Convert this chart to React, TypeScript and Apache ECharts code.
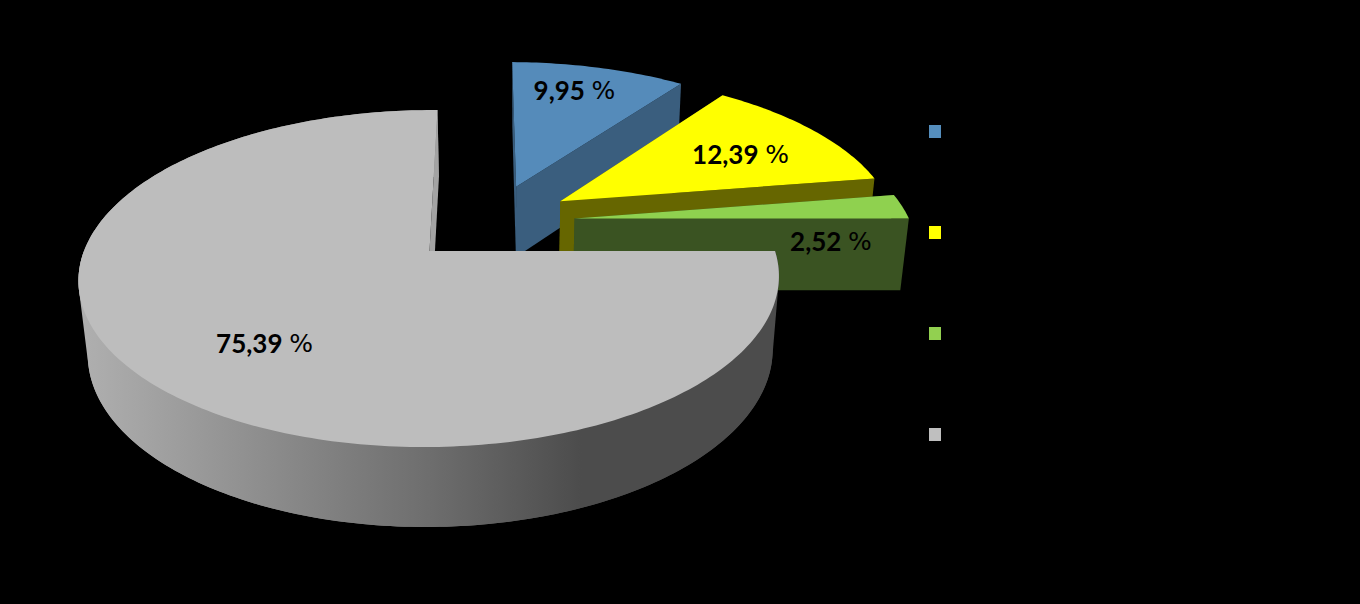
import React, { useEffect, useRef } from "react";
import * as echarts from "echarts";

const shares = [9.95, 12.39, 2.52, 75.39];
const sliceKeys = ["share-a", "share-b", "share-c", "share-d"];
const topColors = ["#558bba", "#ffff00", "#8fd14f", "#bdbdbd"];
const legendColors = ["#558ebd", "#ffff00", "#92d050", "#bfbfbf"];
const wallColors = ["#3a5e7e", "#666600", "#3a5322", "#a3a3a3"];
// offset of each slice's apex in the pie's plane (exploded slices)
const explodeU = [0.262, 0.394, 0.431, 0];
const explodeV = [0.419, 0.32, 0.205, 0];
// label centres
const labelX = [574.5, 740.5, 831, 264.5];
const labelY = [90, 154, 241, 343];

const ROTATION = 0.75;
const TOP = { x0: 429.5, y0: 251, a: 345.5, b: 164, c: 4.8, p: 0.1634 };
const BOTTOM = { x0: 431, y0: 324, a: 338, b: 170.5, c: 4.8, p: 0.16 };
type Plane = typeof TOP;

const total = shares.reduce((s, v) => s + v, 0);
const proj = (P: Plane, u: number, v: number): number[] => {
  const d = 1 + P.p * v;
  return [P.x0 + (P.a * u + P.c * v) / d, P.y0 - (P.b * v) / d];
};
const rad = (deg: number) => (deg * Math.PI) / 180;

const sliceAngles = (idx: number) => {
  let s = 0;
  for (let i = 0; i < idx; i++) s += shares[i];
  return [ROTATION + (s / total) * 360, ROTATION + ((s + shares[idx]) / total) * 360];
};

const rim = (P: Plane, idx: number, from: number, to: number) => {
  const pts: number[][] = [];
  const n = Math.max(2, Math.ceil(Math.abs(to - from)));
  for (let k = 0; k <= n; k++) {
    const t = rad(from + ((to - from) * k) / n);
    pts.push(proj(P, explodeU[idx] + Math.sin(t), explodeV[idx] + Math.cos(t)));
  }
  return pts;
};
const apex = (P: Plane, idx: number) => proj(P, explodeU[idx], explodeV[idx]);

const hull = (input: number[][]) => {
  const pts = [...input].sort((a, b) => a[0] - b[0] || a[1] - b[1]);
  const cross = (o: number[], a: number[], b: number[]) =>
    (a[0] - o[0]) * (b[1] - o[1]) - (a[1] - o[1]) * (b[0] - o[0]);
  const half = (list: number[][]) => {
    const out: number[][] = [];
    for (const p of list) {
      while (out.length >= 2 && cross(out[out.length - 2], out[out.length - 1], p) <= 0) out.pop();
      out.push(p);
    }
    out.pop();
    return out;
  };
  return [...half(pts), ...half([...pts].reverse())];
};

const sideGradient = () =>
  new echarts.graphic.LinearGradient(
    78,
    0,
    778,
    0,
    [
      { offset: 0, color: "#b0b0b0" },
      { offset: 0.5, color: "#6e6e6e" },
      { offset: 0.72, color: "#4c4c4c" },
      { offset: 1, color: "#4c4c4c" },
    ],
    true,
  );

const makeRender = (idx: number) => (_params: any, api: any) => {
  const value = api.value(0) as number;
  const [a0, a1] = sliceAngles(idx);
  const children: any[] = [];
  const poly = (points: number[][], fill: any) => ({
    type: "polygon",
    shape: { points },
    style: { fill, stroke: null },
    silent: true,
  });
  const radialWall = (angle: number) => {
    const e = rim(TOP, idx, angle, angle)[0];
    const eb = rim(BOTTOM, idx, angle, angle)[0];
    return poly([apex(TOP, idx), e, eb, apex(BOTTOM, idx)], wallColors[idx]);
  };
  if (idx === 3) {
    // outer wall: the far part as a strip, the near part as a hull so that its sides are straight
    const wall = [...rim(TOP, idx, a0, a1), ...rim(BOTTOM, idx, a0, a1).reverse()];
    children.push(poly(wall, sideGradient()));
    const near = [...rim(TOP, idx, a0, 270), ...rim(BOTTOM, idx, a0, 270)];
    children.push(poly(hull(near), sideGradient()));
    children.push(radialWall(a1));
  } else {
    children.push(radialWall(a0));
    children.push(radialWall(a1));
  }
  children.push(poly([apex(TOP, idx), ...rim(TOP, idx, a0, a1)], topColors[idx]));
  children.push({
    type: "text",
    silent: true,
    z2: 10,
    style: {
      x: labelX[idx],
      y: labelY[idx],
      text: `{n|${value.toFixed(2).replace(".", ",")}}  {p|%}`,
      align: "center",
      verticalAlign: "middle",
      rich: {
        n: { fontFamily: "Lato", fontWeight: "bold", fontSize: 26, color: "#000" },
        p: { fontFamily: "DejaVu Sans", fontWeight: "normal", fontSize: 25, color: "#000" },
      },
    },
  });
  return { type: "group", children };
};

export default function App() {
  const ref = useRef<HTMLDivElement>(null);
  useEffect(() => {
    document.body.style.margin = "0";
    document.body.style.background = "#000";
    const chart = echarts.init(ref.current!, undefined, { renderer: "svg" });
    chart.setOption({
      animation: false,
      backgroundColor: "#000",
      legend: {
        orient: "vertical",
        left: 929,
        top: 125,
        itemWidth: 12,
        itemHeight: 13,
        itemGap: 88,
        icon: "rect",
        padding: 0,
        selectedMode: false,
        formatter: () => "",
        data: sliceKeys,
      },
      series: shares.map((v, i) => ({
        type: "custom",
        name: sliceKeys[i],
        coordinateSystem: "none",
        itemStyle: { color: legendColors[i] },
        data: [[v]],
        renderItem: makeRender(i),
      })),
    });
    return () => chart.dispose();
  }, []);
  return (
    <div
      ref={ref}
      style={{ position: "fixed", left: 0, top: 0, width: 1360, height: 604, background: "#000" }}
    />
  );
}
